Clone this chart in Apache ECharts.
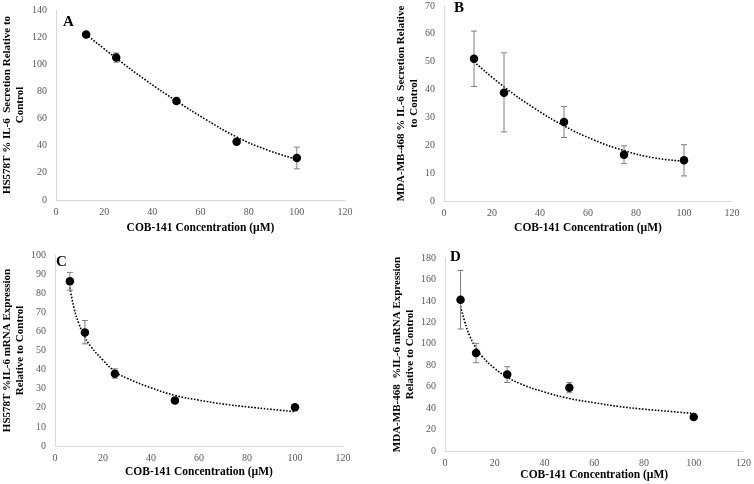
<!DOCTYPE html>
<html>
<head>
<meta charset="utf-8">
<script src="https://cdn.jsdelivr.net/npm/echarts@6/dist/echarts.min.js"></script>
<style>
  html, body { margin: 0; padding: 0; background: #fff; }
  #chart { width: 754px; height: 484px; }
</style>
</head>
<body>
<div id="chart"></div>
<script>
// x ticks shared by all four panels
var xTicks = [0, 20, 40, 60, 80, 100, 120];

// A: HS578T secretion
var concA = [12.5, 25, 50, 75, 100];
var meanA = [122, 105, 73, 43, 31];
var lowA = [122, 101.5, 73, 43, 23];
var highA = [122, 108.3, 73, 43, 39];
var trendXA = [12.5, 25, 37.5, 50, 62.5, 75, 87.5, 100];
var trendA = [122, 104.5, 88, 73, 59, 46.5, 37, 30];

// B: MDA-MB-468 secretion
var concB = [12.5, 25, 50, 75, 100];
var meanB = [51.1, 38.9, 28.4, 16.6, 14.6];
var lowB = [41.1, 24.8, 22.8, 13.4, 9.0];
var highB = [61, 53.2, 33.9, 19.8, 20.2];
var trendXB = [12.5, 25, 37.5, 50, 62.5, 75, 87.5, 100];
var trendB = [50, 41, 33.4, 27, 21.9, 18.1, 15.5, 14.3];

// C: HS578T mRNA
var concC = [6.25, 12.5, 25, 50, 100];
var meanC = [86.2, 59.4, 37.8, 23.8, 20.3];
var lowC = [81.6, 53.5, 35.5, 23.8, 20.3];
var highC = [90.9, 65.7, 40.4, 23.8, 20.3];
var trendXC = [6.25, 8, 10, 12.5, 15, 20, 25, 30, 40, 50, 60, 70, 80, 90, 100];
var trendC = [83, 72, 64, 57, 52, 45, 39, 35.5, 30.5, 26.5, 24, 22, 20.5, 19.2, 18];

// D: MDA-MB-468 mRNA
var concD = [6.25, 12.5, 25, 50, 100];
var meanD = [141, 91.4, 71.4, 59, 31.8];
var lowD = [113.8, 82.3, 63.9, 54.3, 31.8];
var highD = [168.4, 100.4, 78.6, 63.9, 31.8];
var trendXD = [6.25, 8, 10, 12.5, 15, 20, 25, 30, 40, 50, 60, 70, 80, 90, 100];
var trendD = [135, 120, 107, 96, 88, 77, 69, 63, 55, 49, 45, 41.5, 39, 37, 35];

var xTitle = 'COB-141 Concentration (µM)';
var font = '"Liberation Serif", "Times New Roman", serif';

var panels = [
  { letter: 'A', grid: { left: 54, top: 10, width: 291, height: 190 }, yMax: 140, yStep: 20,
    yName: 'HS578T % IL-6  Secretion Relative to\nControl', yGap: 29, xGap: 22,
    conc: concA, mean: meanA, low: lowA, high: highA, tx: trendXA, ty: trendA, letterPos: [63, 15] },
  { letter: 'B', grid: { left: 444, top: 6, width: 288, height: 195 }, yMax: 70, yStep: 10,
    yName: 'MDA-MB-468 % IL-6  Secretion Relative\nto Control', yGap: 20, xGap: 21,
    conc: concB, mean: meanB, low: lowB, high: highB, tx: trendXB, ty: trendB, letterPos: [454, 1] },
  { letter: 'C', grid: { left: 54, top: 255, width: 289, height: 191 }, yMax: 100, yStep: 10,
    yName: 'HS578T %IL-6 mRNA Expression\nRelative to Control', yGap: 17, xGap: 20,
    conc: concC, mean: meanC, low: lowC, high: highC, tx: trendXC, ty: trendC, letterPos: [56, 255] },
  { letter: 'D', grid: { left: 445, top: 258, width: 300, height: 193 }, yMax: 180, yStep: 20,
    yName: 'MDA-MB-468  %IL-6 mRNA Expression\nRelative to Control', yGap: 21, xGap: 12,
    conc: concD, mean: meanD, low: lowD, high: highD, tx: trendXD, ty: trendD, letterPos: [450, 250] }
];

function errorBars(params, api) {
  var x = api.value(0);
  var top = api.coord([x, api.value(2)]);
  var bot = api.coord([x, api.value(1)]);
  var cap = 3;
  var style = { stroke: '#7f7f7f', lineWidth: 1 };
  return {
    type: 'group',
    children: [
      { type: 'line', shape: { x1: top[0], y1: top[1], x2: bot[0], y2: bot[1] }, style: style },
      { type: 'line', shape: { x1: top[0] - cap, y1: top[1], x2: top[0] + cap, y2: top[1] }, style: style },
      { type: 'line', shape: { x1: bot[0] - cap, y1: bot[1], x2: bot[0] + cap, y2: bot[1] }, style: style }
    ]
  };
}

var option = { animation: false, backgroundColor: '#fff', grid: [], xAxis: [], yAxis: [], series: [], graphic: [] };

panels.forEach(function (p, i) {
  option.grid.push(p.grid);
  option.xAxis.push({
    type: 'value', gridIndex: i, min: xTicks[0], max: xTicks[xTicks.length - 1], interval: 20,
    name: xTitle, nameLocation: 'middle', nameGap: p.xGap,
    nameTextStyle: { fontFamily: font, fontWeight: 'bold', fontSize: 11.5, color: '#000' },
    axisLine: { show: true, lineStyle: { color: '#d9d9d9' } },
    axisTick: { show: false }, splitLine: { show: false },
    axisLabel: { fontFamily: font, fontSize: 10, color: '#595959', margin: 7 }
  });
  option.yAxis.push({
    type: 'value', gridIndex: i, min: 0, max: p.yMax, interval: p.yStep,
    name: p.yName, nameLocation: 'middle', nameGap: p.yGap, nameRotate: 90,
    nameTextStyle: { fontFamily: font, fontWeight: 'bold', fontSize: 11, color: '#000', lineHeight: 13 },
    axisLine: { show: true, lineStyle: { color: '#d9d9d9' } },
    axisTick: { show: false }, splitLine: { show: false },
    axisLabel: { fontFamily: font, fontSize: 10, color: '#595959', margin: 9 }
  });

  var trend = p.tx.map(function (x, k) { return [x, p.ty[k]]; });
  var bars = p.conc.map(function (x, k) { return [x, p.low[k], p.high[k]]; });
  var pts = p.conc.map(function (x, k) { return [x, p.mean[k]]; });

  option.series.push({
    type: 'line', xAxisIndex: i, yAxisIndex: i, data: trend, smooth: true,
    showSymbol: false, silent: true, z: 2,
    lineStyle: { color: '#000', width: 1.6, type: [1.6, 1.6] }
  });
  option.series.push({
    type: 'custom', xAxisIndex: i, yAxisIndex: i, data: bars, renderItem: errorBars, z: 3
  });
  option.series.push({
    type: 'scatter', xAxisIndex: i, yAxisIndex: i, data: pts, symbol: 'circle', symbolSize: 8.5,
    itemStyle: { color: '#000', opacity: 1 }, z: 4
  });

  option.graphic.push({
    type: 'text', left: p.letterPos[0], top: p.letterPos[1],
    style: { text: p.letter, font: 'bold 15px ' + font, fill: '#000' }
  });
});

var chart = echarts.init(document.getElementById('chart'), null, { renderer: 'canvas' });
chart.setOption(option);
</script>
</body>
</html>
